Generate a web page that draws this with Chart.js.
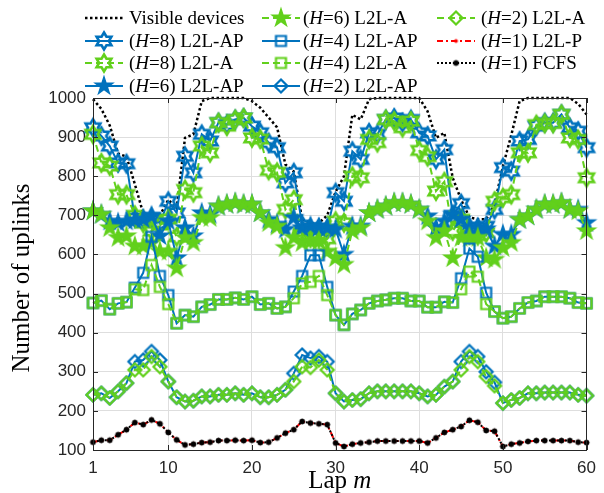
<!DOCTYPE html>
<html>
<head>
<meta charset="utf-8">
<script src="https://cdn.jsdelivr.net/npm/chart.js@4/dist/chart.umd.min.js"></script>
<style>
    body { margin: 0; background: #ffffff; }
    #uplinksChart { display: block; }
</style>
</head>
<body>
<canvas id="uplinksChart" width="604" height="493"></canvas>
<script>
// Values (number of uplinks per lap)
const laps = [1, 2, 3, 4, 5, 6, 7, 8, 9, 10, 11, 12, 13, 14, 15, 16, 17, 18, 19, 20,
    21, 22, 23, 24, 25, 26, 27, 28, 29, 30, 31, 32, 33, 34, 35, 36, 37, 38, 39, 40,
    41, 42, 43, 44, 45, 46, 47, 48, 49, 50, 51, 52, 53, 54, 55, 56, 57, 58, 59, 60];
const xTicks = [1, 10, 20, 30, 40, 50, 60];

const visibleDevices = [997, 972, 930, 858, 850, 780, 705, 700, 700, 740, 718, 898, 907, 992, 1000, 1000, 1000, 1000, 1000, 992,
    975, 950, 925, 830, 812, 690, 680, 680, 700, 760, 800, 957, 945, 997, 1000, 1000, 1000, 1000, 1000, 1000,
    966, 898, 911, 796, 740, 695, 690, 690, 728, 825, 905, 992, 1000, 1000, 1000, 1000, 1000, 1000, 985, 958];

const h8AP = [924, 903, 877, 834, 832, 693, 690, 695, 680, 736, 706, 851, 809, 907, 890, 937, 932, 945, 949, 928,
    911, 886, 873, 783, 809, 675, 668, 668, 665, 758, 736, 864, 843, 911, 907, 945, 949, 937, 945, 911,
    903, 843, 868, 700, 730, 670, 668, 672, 715, 822, 813, 890, 894, 928, 937, 937, 958, 924, 915, 873];
const h8A = [907, 834, 826, 753, 753, 700, 680, 660, 675, 690, 645, 766, 758, 877, 860, 937, 928, 945, 949, 898,
    895, 815, 810, 715, 740, 650, 642, 642, 640, 685, 681, 800, 796, 894, 886, 945, 941, 924, 941, 866,
    850, 762, 786, 660, 690, 650, 648, 655, 736, 745, 753, 860, 860, 932, 935, 935, 958, 898, 894, 796];

const h6AP = [711, 702, 685, 681, 685, 688, 690, 698, 647, 685, 591, 668, 647, 706, 702, 723, 728, 732, 728, 728,
    706, 689, 677, 664, 694, 668, 672, 668, 668, 664, 600, 672, 672, 706, 715, 723, 732, 732, 728, 715,
    698, 668, 685, 702, 690, 668, 668, 665, 621, 651, 651, 689, 698, 715, 728, 728, 732, 715, 715, 681];
const h6A = [711, 702, 668, 643, 647, 621, 621, 630, 608, 608, 565, 643, 630, 694, 694, 723, 728, 732, 728, 728,
    706, 681, 672, 617, 643, 630, 634, 634, 608, 591, 574, 660, 668, 706, 715, 723, 732, 732, 728, 715,
    685, 643, 660, 591, 643, 643, 643, 591, 587, 617, 630, 689, 698, 715, 728, 728, 732, 715, 711, 660];

const h4AP = [476, 482, 460, 475, 478, 515, 553, 645, 545, 496, 424, 445, 441, 466, 472, 485, 485, 489, 485, 492,
    472, 475, 462, 466, 505, 545, 598, 598, 517, 445, 420, 448, 458, 475, 481, 484, 488, 488, 481, 481,
    465, 465, 479, 477, 539, 615, 594, 502, 454, 437, 441, 462, 477, 481, 492, 492, 492, 488, 477, 475];
const h4A = [476, 482, 460, 475, 478, 511, 509, 573, 517, 473, 424, 445, 441, 466, 472, 485, 485, 489, 485, 492,
    472, 475, 462, 466, 488, 526, 530, 545, 496, 445, 420, 448, 458, 475, 481, 484, 488, 488, 481, 481,
    465, 465, 479, 477, 511, 556, 543, 473, 454, 437, 441, 462, 477, 481, 492, 492, 492, 488, 477, 475];

const h2AP = [241, 245, 233, 250, 271, 326, 330, 352, 330, 275, 235, 224, 226, 237, 237, 241, 241, 245, 241, 245,
    235, 235, 241, 254, 296, 343, 335, 339, 326, 245, 224, 228, 230, 245, 250, 250, 250, 250, 250, 245,
    237, 241, 262, 275, 326, 352, 339, 300, 273, 220, 228, 233, 245, 245, 247, 247, 247, 247, 241, 239];
const h2A = [241, 245, 233, 250, 271, 305, 305, 339, 313, 275, 235, 224, 226, 237, 237, 241, 241, 245, 241, 245,
    235, 235, 241, 254, 275, 313, 311, 330, 305, 245, 224, 228, 230, 245, 250, 250, 250, 250, 250, 245,
    237, 241, 262, 275, 305, 339, 326, 288, 264, 220, 228, 233, 245, 245, 247, 247, 247, 247, 241, 239];

const h1P = [120, 125, 125, 139, 152, 170, 165, 177, 167, 145, 126, 113, 115, 119, 120, 124, 124, 125, 124, 125,
    119, 120, 131, 143, 152, 173, 169, 167, 165, 118, 109, 115, 118, 120, 123, 123, 123, 123, 123, 123,
    118, 131, 145, 152, 160, 176, 171, 150, 148, 109, 115, 118, 122, 124, 124, 124, 124, 124, 120, 119];
const h1FCFS = [120, 125, 125, 139, 152, 170, 165, 177, 167, 145, 126, 113, 115, 119, 120, 124, 124, 125, 124, 125,
    119, 120, 131, 143, 152, 173, 169, 167, 165, 118, 109, 115, 118, 120, 123, 123, 123, 123, 123, 123,
    118, 131, 145, 152, 160, 176, 171, 150, 148, 109, 115, 118, 122, 124, 124, 124, 124, 124, 120, 119];

const BLUE = "#0072bd";
const GREEN = "#62d01c";
const SERIF = '"Liberation Serif", "DejaVu Serif", serif';
const SANS = '"Liberation Sans", Arial, sans-serif';

// Small canvases used as point styles (Matlab-like markers)
function makeMarker(kind, color, r, lw, fill) {
    const s = Math.ceil(2 * r + 4 * lw + 6);
    const c = document.createElement("canvas");
    c.width = s;
    c.height = s;
    const g = c.getContext("2d");
    g.translate(s / 2, s / 2);
    g.beginPath();
    if (kind === "pent" || kind === "hex") {
        const n = kind === "pent" ? 5 : 6;
        const inner = kind === "pent" ? r * 0.382 : r * 0.577;
        for (let i = 0; i < 2 * n; i++) {
            const a = -Math.PI / 2 + i * Math.PI / n;
            const rr = i % 2 === 0 ? r : inner;
            if (i === 0) g.moveTo(rr * Math.cos(a), rr * Math.sin(a));
            else g.lineTo(rr * Math.cos(a), rr * Math.sin(a));
        }
        g.closePath();
    } else if (kind === "square") {
        g.rect(-r, -r, 2 * r, 2 * r);
    } else if (kind === "diamond") {
        g.moveTo(0, -r);
        g.lineTo(r, 0);
        g.lineTo(0, r);
        g.lineTo(-r, 0);
        g.closePath();
    } else {
        g.arc(0, 0, r, 0, Math.PI * 2);
    }
    g.lineWidth = lw;
    g.strokeStyle = color;
    if (fill) {
        g.fillStyle = color;
        g.fill();
    }
    g.stroke();
    return c;
}

function series(label, values, color, dash, width, marker) {
    return {
        label: label,
        data: laps.map((m, i) => ({ x: m, y: values[i] })),
        borderColor: color,
        backgroundColor: color,
        borderWidth: width,
        borderDash: dash,
        pointStyle: marker || "circle",
        pointRadius: marker ? 4 : 0,
        pointHoverRadius: marker ? 4 : 0,
        tension: 0,
        fill: false,
        clip: false
    };
}

const datasets = [
    series("Visible devices", visibleDevices, "#000000", [2.5, 2.5], 2.5, null),
    series("(H=8) L2L-AP", h8AP, BLUE, [], 2, makeMarker("hex", BLUE, 8.5, 2.6, false)),
    series("(H=8) L2L-A", h8A, GREEN, [7, 4], 2, makeMarker("hex", GREEN, 8.5, 2.6, false)),
    series("(H=6) L2L-AP", h6AP, BLUE, [], 2, makeMarker("pent", BLUE, 9, 1.5, true)),
    series("(H=6) L2L-A", h6A, GREEN, [7, 4], 2, makeMarker("pent", GREEN, 9, 1.5, true)),
    series("(H=4) L2L-AP", h4AP, BLUE, [], 2, makeMarker("square", BLUE, 5, 2.2, false)),
    series("(H=4) L2L-A", h4A, GREEN, [7, 4], 2, makeMarker("square", GREEN, 5, 2.2, false)),
    series("(H=2) L2L-AP", h2AP, BLUE, [], 2, makeMarker("diamond", BLUE, 6.5, 2.2, false)),
    series("(H=2) L2L-A", h2A, GREEN, [7, 4], 2, makeMarker("diamond", GREEN, 6.5, 2.2, false)),
    series("(H=1) L2L-P", h1P, "#ff0000", [6, 3, 2, 3], 2, makeMarker("dot", "#ff0000", 1.5, 1, true)),
    series("(H=1) FCFS", h1FCFS, "#000000", [2, 2], 2, makeMarker("dot", "#000000", 2.5, 1, true))
];
// later datasets are drawn on top, like in the original plot
datasets.forEach((d, i) => { d.order = datasets.length - i; });

// Legend is laid out column-wise, 4 rows x 3 columns
const legendCols = [
    { line: 85, text: 129 },
    { line: 262, text: 303 },
    { line: 437, text: 481 }
];
const legendRows = [18, 41, 63, 86];

function drawRich(ctx, x, y, parts, size) {
    parts.forEach(p => {
        ctx.font = (p[1] ? "italic " : "") + size + "px " + SERIF;
        ctx.fillText(p[0], x, y);
        x += ctx.measureText(p[0]).width;
    });
    return x;
}

function labelParts(label) {
    if (label.startsWith("(H")) {
        return [["(", false], ["H", true], [label.slice(2), false]];
    }
    return [[label, false]];
}

const overlayPlugin = {
    id: "overlay",
    afterDraw(chart) {
        const ctx = chart.ctx;
        const a = chart.chartArea;
        ctx.save();

        // box around axes plus inward ticks
        ctx.strokeStyle = "#262626";
        ctx.lineWidth = 1;
        ctx.strokeRect(Math.round(a.left) + 0.5, Math.round(a.top) + 0.5,
            Math.round(a.right - a.left) - 1, Math.round(a.bottom - a.top));
        const ys = chart.scales.y;
        const xs = chart.scales.x;
        ctx.beginPath();
        ys.ticks.forEach(t => {
            const py = Math.round(ys.getPixelForValue(t.value)) + 0.5;
            ctx.moveTo(a.left, py); ctx.lineTo(a.left + 5, py);
            ctx.moveTo(a.right, py); ctx.lineTo(a.right - 5, py);
        });
        xTicks.forEach(v => {
            const px = Math.round(xs.getPixelForValue(v)) + 0.5;
            ctx.moveTo(px, a.bottom); ctx.lineTo(px, a.bottom - 5);
            ctx.moveTo(px, a.top); ctx.lineTo(px, a.top + 5);
        });
        ctx.stroke();

        // axis titles
        ctx.fillStyle = "#000000";
        ctx.textBaseline = "middle";
        ctx.font = "25px " + SERIF;
        const lapW = ctx.measureText("Lap ").width;
        ctx.font = "italic 25px " + SERIF;
        const mW = ctx.measureText("m").width;
        drawRich(ctx, (a.left + a.right) / 2 - (lapW + mW) / 2, 481, [["Lap ", false], ["m", true]], 25);
        ctx.save();
        ctx.translate(22, (a.top + a.bottom) / 2 + 4);
        ctx.rotate(-Math.PI / 2);
        ctx.textAlign = "center";
        ctx.font = "25px " + SERIF;
        ctx.fillText("Number of uplinks", 0, 0);
        ctx.restore();

        // legend
        chart.data.datasets.forEach((ds, i) => {
            const col = legendCols[Math.floor(i / 4)];
            const y = legendRows[i % 4];
            ctx.beginPath();
            ctx.strokeStyle = ds.borderColor;
            ctx.lineWidth = ds.borderWidth;
            ctx.setLineDash(ds.borderDash);
            ctx.moveTo(col.line, y);
            ctx.lineTo(col.line + 38, y);
            ctx.stroke();
            ctx.setLineDash([]);
            if (ds.pointRadius > 0) {
                const img = ds.pointStyle;
                ctx.drawImage(img, col.line + 19 - img.width / 2, y - img.height / 2);
            }
            ctx.fillStyle = "#000000";
            ctx.textAlign = "left";
            drawRich(ctx, col.text, y + 1, labelParts(ds.label), 19);
        });
        ctx.restore();
    }
};

const ctx = document.getElementById("uplinksChart").getContext("2d");
new Chart(ctx, {
    type: "line",
    data: { datasets: datasets },
    options: {
        responsive: false,
        animation: false,
        devicePixelRatio: 1,
        layout: { padding: { left: 0, right: 11, top: 98, bottom: 0 } },
        plugins: {
            legend: { display: false },
            tooltip: { enabled: false }
        },
        scales: {
            x: {
                type: "linear",
                min: 1,
                max: 60,
                afterBuildTicks: (scale) => { scale.ticks = xTicks.map(v => ({ value: v })); },
                afterFit: (scale) => { scale.height = 43; },
                grid: { color: "#dedede", drawTicks: false },
                border: { color: "#262626", width: 1 },
                ticks: {
                    padding: 8,
                    color: "#262626",
                    font: { family: SANS, size: 17 },
                    maxRotation: 0,
                    callback: (v) => String(v)
                }
            },
            y: {
                min: 100,
                max: 1000,
                afterFit: (scale) => { scale.width = 93; },
                grid: { color: "#dedede", drawTicks: false },
                border: { color: "#262626", width: 1 },
                ticks: {
                    stepSize: 100,
                    padding: 7,
                    color: "#262626",
                    font: { family: SANS, size: 17 },
                    callback: (v) => String(v)
                }
            }
        }
    },
    plugins: [overlayPlugin]
});
</script>
</body>
</html>
